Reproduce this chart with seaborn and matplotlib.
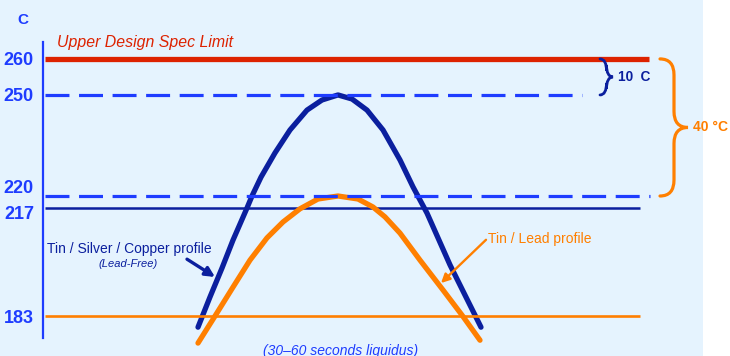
import numpy as np
import matplotlib
matplotlib.use("Agg")
import matplotlib.pyplot as plt
import matplotlib.transforms as mtransforms
from matplotlib.path import Path
from matplotlib.patches import PathPatch, Rectangle
import seaborn as sns

# time axis is in arbitrary units (schematic), temperature in C
tick_values = [260, 250, 220, 217, 183]
tick_labels = ["260", "250", "220", "217", "183"]

lead_free_time = [155, 167, 179, 190, 204, 209, 218, 232, 247, 264, 279, 295, 309, 324, 340, 357, 370, 384,
                  407, 422, 438]
lead_free_temp = [179.5, 189.0, 198.1, 206.9, 217.0, 220.0, 225.6, 232.8, 239.6, 245.5, 248.5, 250.0, 248.8,
                  245.5, 239.6, 230.7, 222.7, 215.4, 199.1, 189.6, 179.5]

tin_lead_time = [155, 172, 190, 207, 224, 240, 257, 275, 295, 315, 330, 342, 357, 377, 400, 419, 437]
tin_lead_temp = [174.5, 183.0, 192.1, 200.6, 207.6, 212.6, 216.75, 219.25, 220.0, 219.25, 217.25, 214.2, 209.1,
                 200.6, 191.2, 183.3, 175.4]

spec_limit = 260
peak_lead_free = 250
peak_tin_lead = 220
liquidus_lead_free = 217
liquidus_tin_lead = 183

# the original is a schematic: the temperature axis is stretched unevenly between the marked levels
scale_temps = [170, 183, 217, 220, 250, 260, 270]
scale_pos = [-357.3, -316, -208, -196, -95, -59, -23]


def fwd(t):
    return np.interp(t, scale_temps, scale_pos)


def inv(p):
    return np.interp(p, scale_pos, scale_temps)


blue = "#1e3cff"
navy = "#0b1f9e"
red = "#dd2200"
orange = "#ff7f00"
bg = "#e5f3fe"

sns.set_style("white")
plt.rcParams["font.family"] = ["Liberation Sans", "DejaVu Sans"]

fig = plt.figure(figsize=(7.3, 3.56), dpi=100)
fig.patch.set_facecolor("white")
fig.patches.append(Rectangle((0, 0), 703 / 730, 1, transform=fig.transFigure,
                             facecolor=bg, edgecolor="none", zorder=-10))
ax = fig.add_axes([43 / 730, 1 - 338 / 356, 660 / 730, 296 / 356])
ax.set_facecolor("none")
ax.set_yscale("function", functions=(fwd, inv))
ax.set_xlim(0, 660)
ax.set_ylim(176.1, 264.7)

# reference lines and profiles
ax.hlines(liquidus_lead_free, 2, 597, color=navy, lw=1.8, zorder=1)
sns.lineplot(x=lead_free_time, y=lead_free_temp, color=navy, lw=3.8, ax=ax,
             solid_capstyle="round", solid_joinstyle="round", zorder=2, clip_on=False)
ax.hlines(liquidus_tin_lead, 2, 597, color=orange, lw=1.9, zorder=3)
sns.lineplot(x=tin_lead_time, y=tin_lead_temp, color=orange, lw=3.8, ax=ax,
             solid_capstyle="round", solid_joinstyle="round", zorder=4, clip_on=False)
ax.hlines(peak_lead_free, 2, 539, color=blue, lw=2.3, linestyles=(0, (7.5, 3.0)), zorder=5)
ax.hlines(peak_tin_lead, 2, 607, color=blue, lw=2.3, linestyles=(0, (7.5, 3.0)), zorder=5)
ax.hlines(spec_limit, 2, 606, color=red, lw=3.8, zorder=6)

# axis styling
ax.set_yticks(tick_values)
ax.set_yticklabels(tick_labels)
ax.yaxis.set_minor_locator(matplotlib.ticker.NullLocator())
ax.set_xticks([])
for s in ["top", "right", "bottom"]:
    ax.spines[s].set_visible(False)
ax.spines["left"].set_color(blue)
ax.spines["left"].set_linewidth(1.6)
ax.tick_params(axis="y", length=0, pad=6.5, labelsize=13, labelcolor=blue)
# 220 and 217 sit close together, so their labels are nudged apart like in the original
label_shift = {220: 0.095, 217: -0.045}
for tick, val in zip(ax.yaxis.get_major_ticks(), tick_values):
    tick.label1.set_fontweight("bold")
    if val in label_shift:
        off = mtransforms.ScaledTranslation(0, label_shift[val], fig.dpi_scale_trans)
        tick.label1.set_transform(tick.label1.get_transform() + off)
fig.text(22.5 / 730, 1 - 20.5 / 356, "C", color=blue, fontsize=11, fontweight="bold",
         ha="center", va="center")


def brace(x0, w, ytop, ybot, color, lw, r=14):
    # build the curly brace in display pixels so the curl radius stays round
    (px0, py_top), = ax.transData.transform([(x0, ytop)])
    (pxt, py_bot), = ax.transData.transform([(x0 + w, ybot)])
    pxm = (px0 + pxt) / 2
    pym = (py_top + py_bot) / 2
    verts = [(px0, py_top), (pxm, py_top), (pxm, py_top - r), (pxm, pym + r), (pxm, pym), (pxt, pym),
             (pxm, pym), (pxm, pym - r), (pxm, py_bot + r), (pxm, py_bot), (px0, py_bot)]
    codes = [Path.MOVETO, Path.CURVE3, Path.CURVE3, Path.LINETO, Path.CURVE3, Path.CURVE3,
             Path.CURVE3, Path.CURVE3, Path.LINETO, Path.CURVE3, Path.CURVE3]
    fig.patches.append(PathPatch(Path(verts, codes), facecolor="none", edgecolor=color, lw=lw,
                                 capstyle="round", transform=None, zorder=6))


brace(557, 13, spec_limit, peak_lead_free, navy, 2.0, r=12)
brace(617, 28, spec_limit, peak_tin_lead, orange, 2.3, r=16)

ax.text(14, 263.3, "Upper Design Spec Limit", color=red, fontsize=11.4, fontstyle="italic",
        va="baseline", clip_on=False)
ax.text(575, 255, "10  C", color=navy, fontsize=9.8, fontweight="bold", va="center", clip_on=False)
ax.text(650, 240.5, "40 °C", color=orange, fontsize=10, fontweight="bold", va="center", clip_on=False)
ax.text(4, 204.1, "Tin / Silver / Copper profile", color=navy, fontsize=10, va="center")
ax.text(85, 199.4, "(Lead-Free)", color=navy, fontsize=8, fontstyle="italic", ha="center", va="center")
ax.text(445, 207.2, "Tin / Lead profile", color=orange, fontsize=10, va="center")
ax.text(298, 172.0, "(30–60 seconds liquidus)", color=blue, fontsize=10, fontstyle="italic",
        ha="center", va="center", clip_on=False)

ax.annotate("", xy=(172, 195.3), xytext=(144, 200.9),
            arrowprops=dict(arrowstyle="-|>", color=navy, lw=2.4, mutation_scale=14,
                            shrinkA=0, shrinkB=0), zorder=7)
ax.annotate("", xy=(398, 193.4), xytext=(443, 207.0),
            arrowprops=dict(arrowstyle="-|>", color=orange, lw=1.7, mutation_scale=13,
                            shrinkA=0, shrinkB=0), zorder=7)

fig.savefig("out.png", dpi=100)
